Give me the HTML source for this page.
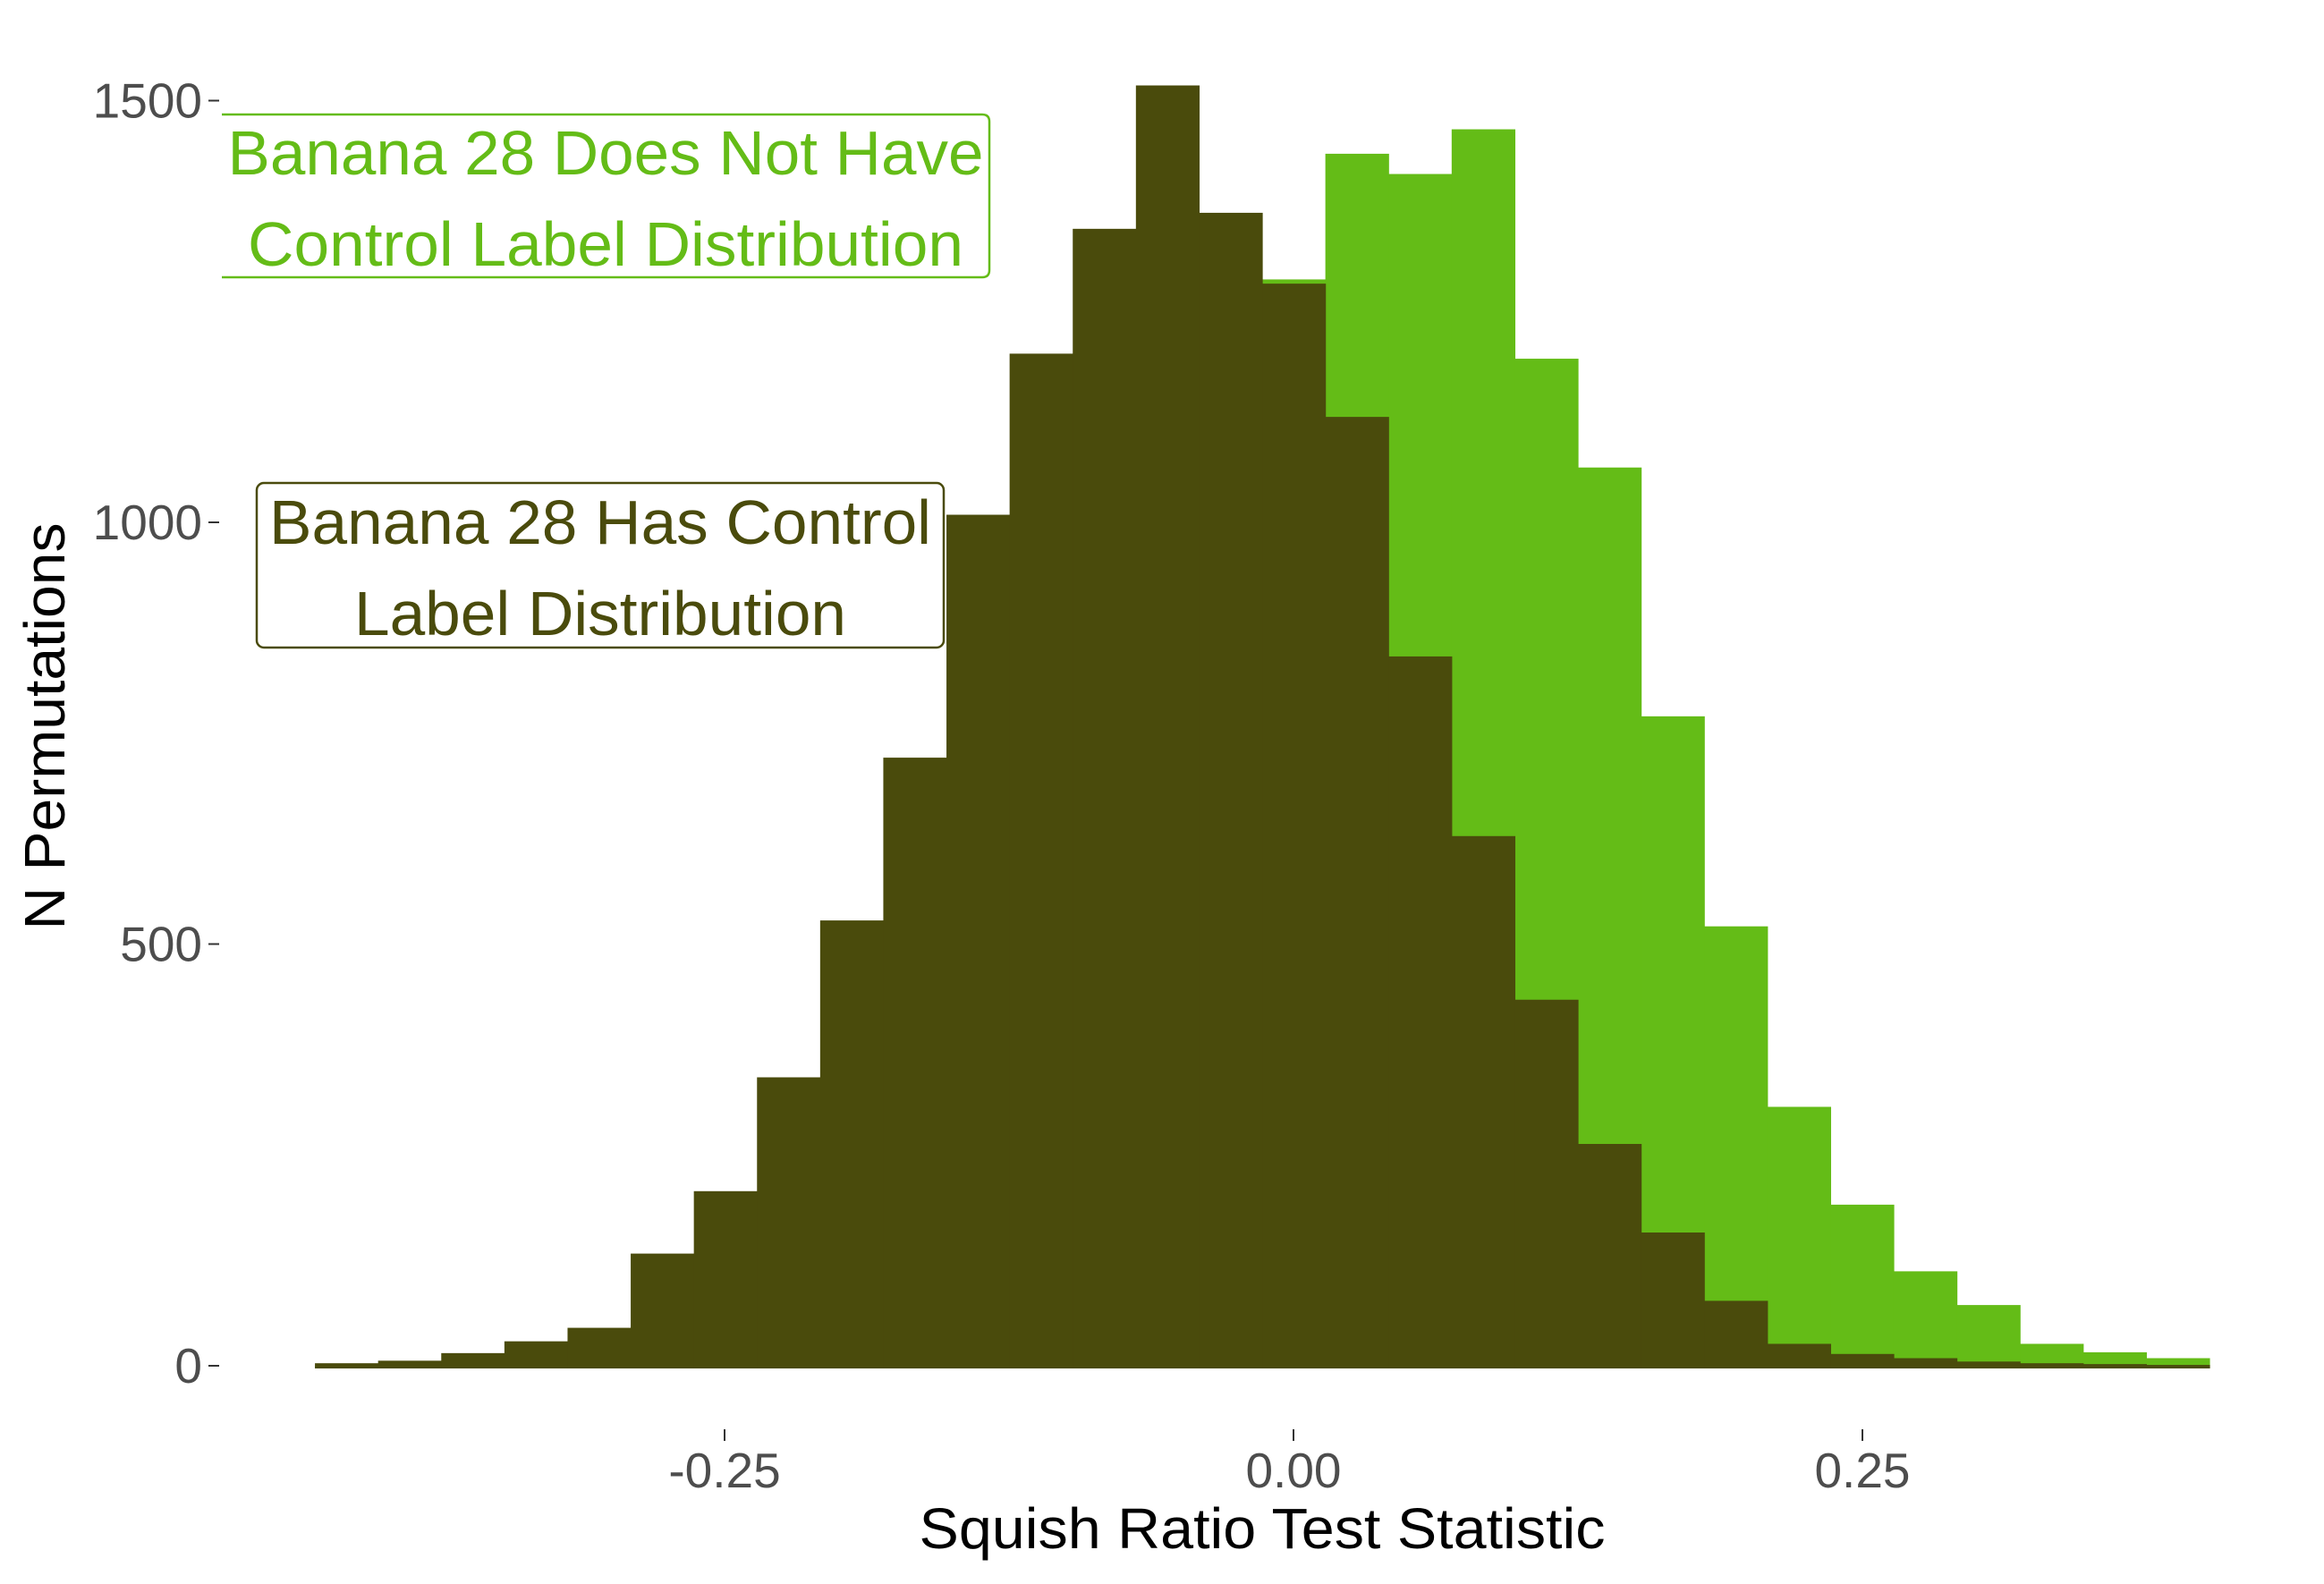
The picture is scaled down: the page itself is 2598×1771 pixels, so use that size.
<!DOCTYPE html>
<html><head><meta charset="utf-8"><style>
html,body{margin:0;padding:0;background:#fff;}
svg{display:block;font-family:"Liberation Sans",Arial,sans-serif;}
</style></head><body>
<svg id="chart" width="2598" height="1771" viewBox="0 0 2598 1771" xmlns="http://www.w3.org/2000/svg">
<g id="bars"></g>
<g id="axes"></g>
<g>
  <path d="M248 128 H1098 Q1106 128 1106 136 V302 Q1106 310 1098 310 H248" fill="#fff" stroke="#64BC17" stroke-width="2.5"/>
  <text x="677" y="195" text-anchor="middle" font-size="70" textLength="845" lengthAdjust="spacingAndGlyphs" fill="#64BC17">Banana 28 Does Not Have</text>
  <text x="677" y="297" text-anchor="middle" font-size="70" textLength="800" lengthAdjust="spacingAndGlyphs" fill="#64BC17">Control Label Distribution</text>
</g>
<g>
  <rect x="287" y="540" width="768" height="184" rx="8" fill="#fff" stroke="#4A4B0C" stroke-width="2.5"/>
  <text x="671" y="608" text-anchor="middle" font-size="70" textLength="740" lengthAdjust="spacingAndGlyphs" fill="#4A4B0C">Banana 28 Has Control</text>
  <text x="671" y="710" text-anchor="middle" font-size="70" textLength="550" lengthAdjust="spacingAndGlyphs" fill="#4A4B0C">Label Distribution</text>
</g>
<text transform="translate(72,812) rotate(-90)" text-anchor="middle" font-size="64" textLength="455" lengthAdjust="spacingAndGlyphs" fill="#000">N Permutations</text>
<text x="1411" y="1731" text-anchor="middle" font-size="64" textLength="767" lengthAdjust="spacingAndGlyphs" fill="#000">Squish Ratio Test Statistic</text>
</svg>
<script>
const binStart = -0.430;
const binWidth = 0.02775;
const controlCounts = [3,6,15,29,45,133,207,342,528,721,1009,1200,1348,1518,1367,1283,1125,841,628,434,263,158,77,26,14,9,5,3,2,1];
const notControlCounts = [0,0,1,1,2,3,5,10,20,40,90,200,390,650,1000,1288,1437,1413,1466,1194,1065,770,521,307,191,112,72,26,16,9];
const yTicks = [0,500,1000,1500];
const yTickLabels = ["0","500","1000","1500"];
const xTicks = [-0.25,0,0.25];
const xTickLabels = ["-0.25","0.00","0.25"];

const NS = "http://www.w3.org/2000/svg";
const xs = v => 1446 + v*2544;
const ys = c => 1527 - c*0.943;
const bars = document.getElementById('bars');
const axes = document.getElementById('axes');

function drawSeries(counts, color, name){
  counts.forEach((c,i)=>{
    const x0 = xs(binStart + i*binWidth), x1 = xs(binStart + (i+1)*binWidth);
    const r = document.createElementNS(NS,'rect');
    r.setAttribute('x', x0); r.setAttribute('width', x1-x0+0.6);
    r.setAttribute('y', ys(c)); r.setAttribute('height', Math.max(ys(0)-ys(c),0)+3);
    r.setAttribute('fill', color);
    
    
    bars.appendChild(r);
  });
}
drawSeries(notControlCounts, '#64BC17', 'not-control');
drawSeries(controlCounts, '#4A4B0C', 'control');

yTicks.forEach((t,i)=>{
  const y = ys(t);
  const l = document.createElementNS(NS,'line');
  l.setAttribute('x1',233); l.setAttribute('x2',245); l.setAttribute('y1',y); l.setAttribute('y2',y);
  l.setAttribute('stroke','#333'); l.setAttribute('stroke-width','2');
  
  
  axes.appendChild(l);
  const tx = document.createElementNS(NS,'text');
  tx.setAttribute('x',226); tx.setAttribute('y',y+19); tx.setAttribute('text-anchor','end');
  tx.setAttribute('font-size','55'); tx.setAttribute('fill','#4d4d4d');
  tx.textContent = yTickLabels[i];
  
  
  axes.appendChild(tx);
});
xTicks.forEach((t,i)=>{
  const x = xs(t);
  const l = document.createElementNS(NS,'line');
  l.setAttribute('x1',x); l.setAttribute('x2',x); l.setAttribute('y1',1598); l.setAttribute('y2',1611);
  l.setAttribute('stroke','#333'); l.setAttribute('stroke-width','2');
  
  
  axes.appendChild(l);
  const tx = document.createElementNS(NS,'text');
  tx.setAttribute('x',x); tx.setAttribute('y',1663); tx.setAttribute('text-anchor','middle');
  tx.setAttribute('font-size','55'); tx.setAttribute('fill','#4d4d4d');
  tx.textContent = xTickLabels[i];
  
  
  axes.appendChild(tx);
});
</script>
</body></html>
